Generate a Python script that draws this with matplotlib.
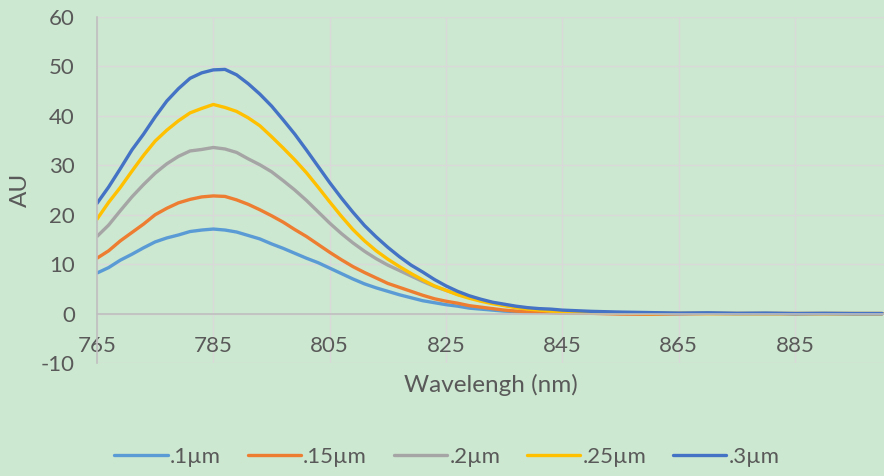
import matplotlib.pyplot as plt

plt.rcParams['font.family'] = ['Lato', 'DejaVu Sans']
plt.rcParams['axes.unicode_minus'] = False

# wavelengths (nm) and measured intensity (AU) for each particle size
wavelength = [765, 767, 769, 771, 773, 775, 777, 779, 781, 783, 785, 787, 789, 791,
              793, 795, 797, 799, 801, 803, 805, 807, 809, 811, 813, 815, 817, 819,
              821, 823, 825, 827, 829, 831, 833, 835, 837, 839, 841, 843, 845,
              850, 855, 860, 865, 870, 875, 880, 885, 890, 895, 900]

s_01 = [8.2, 9.3, 10.8, 12.0, 13.3, 14.5, 15.3, 15.9, 16.6, 16.9, 17.1, 16.9, 16.5, 15.8,
        15.1, 14.1, 13.2, 12.2, 11.2, 10.3, 9.2, 8.1, 7.0, 6.0, 5.2, 4.5, 3.8, 3.2,
        2.6, 2.2, 1.8, 1.5, 1.1, 0.9, 0.7, 0.5, 0.4, 0.3, 0.3, 0.2, 0.1,
        0.1, 0.05, 0.0, 0.0, 0.05, 0.0, 0.0, 0.0, 0.0, 0.0, 0.0]
s_015 = [11.2, 12.7, 14.7, 16.4, 18.1, 20.0, 21.3, 22.4, 23.1, 23.6, 23.8, 23.7, 23.0, 22.1,
         21.0, 19.8, 18.5, 17.0, 15.6, 14.0, 12.4, 10.9, 9.5, 8.3, 7.2, 6.1, 5.3, 4.5,
         3.7, 3.0, 2.5, 2.1, 1.6, 1.3, 1.0, 0.7, 0.5, 0.4, 0.3, 0.2, 0.1,
         0.05, -0.1, -0.15, -0.05, 0.0, 0.0, 0.0, 0.0, 0.0, 0.0, 0.0]
s_02 = [15.6, 17.9, 20.8, 23.6, 26.1, 28.4, 30.3, 31.8, 32.9, 33.2, 33.6, 33.3, 32.6, 31.3,
        30.1, 28.7, 26.9, 25.0, 22.9, 20.6, 18.3, 16.2, 14.3, 12.6, 11.1, 9.8, 8.7, 7.6,
        6.5, 5.5, 4.7, 3.9, 3.3, 2.7, 2.2, 1.7, 1.3, 1.0, 0.8, 0.5, 0.4,
        0.2, 0.1, 0.05, 0.0, 0.05, 0.0, 0.0, 0.0, 0.0, 0.0, 0.0]
s_025 = [19.1, 22.5, 25.5, 28.8, 32.0, 34.9, 37.1, 39.0, 40.6, 41.5, 42.3, 41.7, 40.9, 39.6,
         38.0, 35.8, 33.5, 31.1, 28.5, 25.6, 22.6, 19.7, 17.0, 14.7, 12.7, 11.0, 9.5, 8.1,
         6.8, 5.6, 4.7, 3.8, 3.1, 2.5, 2.0, 1.6, 1.2, 0.9, 0.7, 0.5, 0.4,
         0.2, 0.1, 0.0, 0.05, 0.0, 0.0, 0.0, 0.0, 0.0, 0.0, 0.0]
s_03 = [22.3, 25.6, 29.3, 33.1, 36.3, 39.8, 43.0, 45.5, 47.6, 48.7, 49.3, 49.4, 48.3, 46.5,
        44.4, 42.0, 39.2, 36.3, 33.1, 29.8, 26.5, 23.4, 20.5, 17.8, 15.5, 13.4, 11.5, 9.8,
        8.4, 6.9, 5.6, 4.5, 3.6, 2.9, 2.3, 1.9, 1.5, 1.2, 1.0, 0.9, 0.7,
        0.45, 0.3, 0.2, 0.1, 0.15, 0.05, 0.1, 0.0, 0.05, 0.0, 0.0]

labels = ['.1\u00b5m', '.15\u00b5m', '.2\u00b5m', '.25\u00b5m', '.3\u00b5m']
colors = ['#5B9BD5', '#ED7D31', '#A5A5A5', '#FFC000', '#4472C4']
series = [s_01, s_015, s_02, s_025, s_03]

bg = '#cde8d0'
text_col = '#595959'

fig = plt.figure(figsize=(8.84, 4.76), dpi=100, facecolor=bg)
ax = fig.add_axes([97 / 884, 1 - 363 / 476, 1 - 97 / 884, (363 - 17) / 476])
ax.set_facecolor(bg)

for ys, lab, c in zip(series, labels, colors):
    ax.plot(wavelength, ys, color=c, lw=2.4, label=lab, solid_capstyle='round')

ax.set_xlim(765, 900.3)
ax.set_ylim(-10, 60)
ax.set_xticks(range(765, 900, 20))
ax.set_yticks(range(-10, 61, 10))
ax.grid(True, color='#d9d9d9', lw=1)
ax.set_axisbelow(True)

for side in ['top', 'right']:
    ax.spines[side].set_visible(False)
ax.spines['left'].set_color('#bfbfbf')
ax.spines['bottom'].set_color('#bfbfbf')
ax.spines['bottom'].set_position(('data', 0))
ax.spines['left'].set_linewidth(1.2)
ax.spines['bottom'].set_linewidth(1.2)

ax.tick_params(axis='both', length=0, labelsize=16, labelcolor=text_col)
ax.tick_params(axis='x', pad=16)
ax.tick_params(axis='y', pad=16)

fig.text((97 + 884) / 2 / 884, 1 - 385 / 476, 'Wavelengh (nm)', ha='center', va='center',
         fontsize=17.5, color=text_col)
fig.text(20 / 884, 1 - 190 / 476, 'AU', ha='center', va='center', rotation=90,
         fontsize=17.5, color=text_col)

fig.legend(loc='center', bbox_to_anchor=(447 / 884, 1 - 457 / 476), ncol=5, frameon=False,
           fontsize=16, labelcolor=text_col, handlelength=2.4, handletextpad=0.1,
           columnspacing=1.2)

fig.savefig('out.png', dpi=100, facecolor=bg)
